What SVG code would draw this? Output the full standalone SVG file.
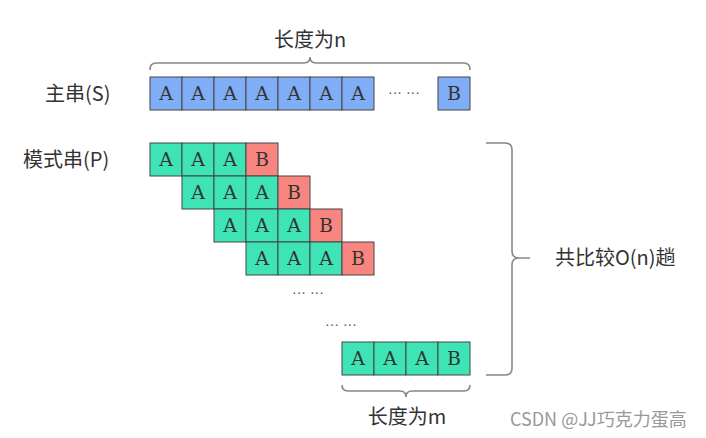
<svg xmlns="http://www.w3.org/2000/svg" width="706" height="438" viewBox="0 0 706 438">
<style>
.lbl{font-family:"Noto Sans CJK SC","Noto Sans",sans-serif;font-size:20px;fill:#333}
.ch{font-family:"DejaVu Serif","Liberation Serif",serif;font-size:19px;fill:#333;text-anchor:middle}
.b{fill:#80aef6;stroke:#444;stroke-width:1}
.g{fill:#3ee4b6;stroke:#444;stroke-width:1}
.r{fill:#f8857f;stroke:#444;stroke-width:1}
.brace{fill:none;stroke:#888;stroke-width:1.6}
.dots{font-family:"Liberation Sans",sans-serif;font-size:14px;fill:#555}
.wm{font-family:"Noto Sans CJK SC","Noto Sans",sans-serif;font-size:18px;fill:#999}
</style>
<rect width="706" height="438" fill="#fff"/>
<g id="labels">
<text class="lbl" x="310" y="47" text-anchor="middle">长度为n</text>
<text class="lbl" x="45" y="101">主串(S)</text>
<text class="lbl" x="23" y="167">模式串(P)</text>
<text class="lbl" x="555" y="265">共比较O(n)趟</text>
<text class="lbl" x="407" y="424" text-anchor="middle">长度为m</text>
<text class="wm" x="510" y="426">CSDN @JJ巧克力蛋高</text>
</g>
<g id="main-string">
<rect class="b" x="150" y="77" width="32" height="33"/><text class="ch" x="166" y="100">A</text>
<rect class="b" x="182" y="77" width="32" height="33"/><text class="ch" x="198" y="100">A</text>
<rect class="b" x="214" y="77" width="32" height="33"/><text class="ch" x="230" y="100">A</text>
<rect class="b" x="246" y="77" width="32" height="33"/><text class="ch" x="262" y="100">A</text>
<rect class="b" x="278" y="77" width="32" height="33"/><text class="ch" x="294" y="100">A</text>
<rect class="b" x="310" y="77" width="32" height="33"/><text class="ch" x="326" y="100">A</text>
<rect class="b" x="342" y="77" width="32" height="33"/><text class="ch" x="358" y="100">A</text>
<text class="dots" x="388" y="97">··· ···</text>
<rect class="b" x="438" y="77" width="32" height="33"/><text class="ch" x="454" y="100">B</text>
</g>
<g id="pattern-1">
<rect class="g" x="150" y="143" width="32" height="33"/><text class="ch" x="166" y="166">A</text>
<rect class="g" x="182" y="143" width="32" height="33"/><text class="ch" x="198" y="166">A</text>
<rect class="g" x="214" y="143" width="32" height="33"/><text class="ch" x="230" y="166">A</text>
<rect class="r" x="246" y="143" width="32" height="33"/><text class="ch" x="262" y="166">B</text>
</g>
<g id="pattern-2">
<rect class="g" x="182" y="176" width="32" height="33"/><text class="ch" x="198" y="199">A</text>
<rect class="g" x="214" y="176" width="32" height="33"/><text class="ch" x="230" y="199">A</text>
<rect class="g" x="246" y="176" width="32" height="33"/><text class="ch" x="262" y="199">A</text>
<rect class="r" x="278" y="176" width="32" height="33"/><text class="ch" x="294" y="199">B</text>
</g>
<g id="pattern-3">
<rect class="g" x="214" y="209" width="32" height="33"/><text class="ch" x="230" y="232">A</text>
<rect class="g" x="246" y="209" width="32" height="33"/><text class="ch" x="262" y="232">A</text>
<rect class="g" x="278" y="209" width="32" height="33"/><text class="ch" x="294" y="232">A</text>
<rect class="r" x="310" y="209" width="32" height="33"/><text class="ch" x="326" y="232">B</text>
</g>
<g id="pattern-4">
<rect class="g" x="246" y="242" width="32" height="33"/><text class="ch" x="262" y="265">A</text>
<rect class="g" x="278" y="242" width="32" height="33"/><text class="ch" x="294" y="265">A</text>
<rect class="g" x="310" y="242" width="32" height="33"/><text class="ch" x="326" y="265">A</text>
<rect class="r" x="342" y="242" width="32" height="33"/><text class="ch" x="358" y="265">B</text>
</g>
<g id="ellipsis">
<text class="dots" x="292" y="297">··· ···</text>
<text class="dots" x="325" y="329">··· ···</text>
</g>
<g id="pattern-last">
<rect class="g" x="342" y="342" width="32" height="33"/><text class="ch" x="358" y="365">A</text>
<rect class="g" x="374" y="342" width="32" height="33"/><text class="ch" x="390" y="365">A</text>
<rect class="g" x="406" y="342" width="32" height="33"/><text class="ch" x="422" y="365">A</text>
<rect class="g" x="438" y="342" width="32" height="33"/><text class="ch" x="454" y="365">B</text>
</g>
<g id="connectors">
<path class="brace" d="M150,70 Q150,63 156,63 L304,63 Q310,63 310,57 Q310,63 316,63 L464,63 Q470,63 470,70"/>
<path class="brace" d="M342,385 Q342,391 348,391 L400,391 Q406,391 406,397 Q406,391 412,391 L464,391 Q470,391 470,385"/>
<path class="brace" d="M486,143 L505,143 Q512,143 512,150 L512,251 Q512,258 519,258 L530,258 M519,258 Q512,258 512,265 L512,368 Q512,375 505,375 L486,375"/>
</g>
</svg>
